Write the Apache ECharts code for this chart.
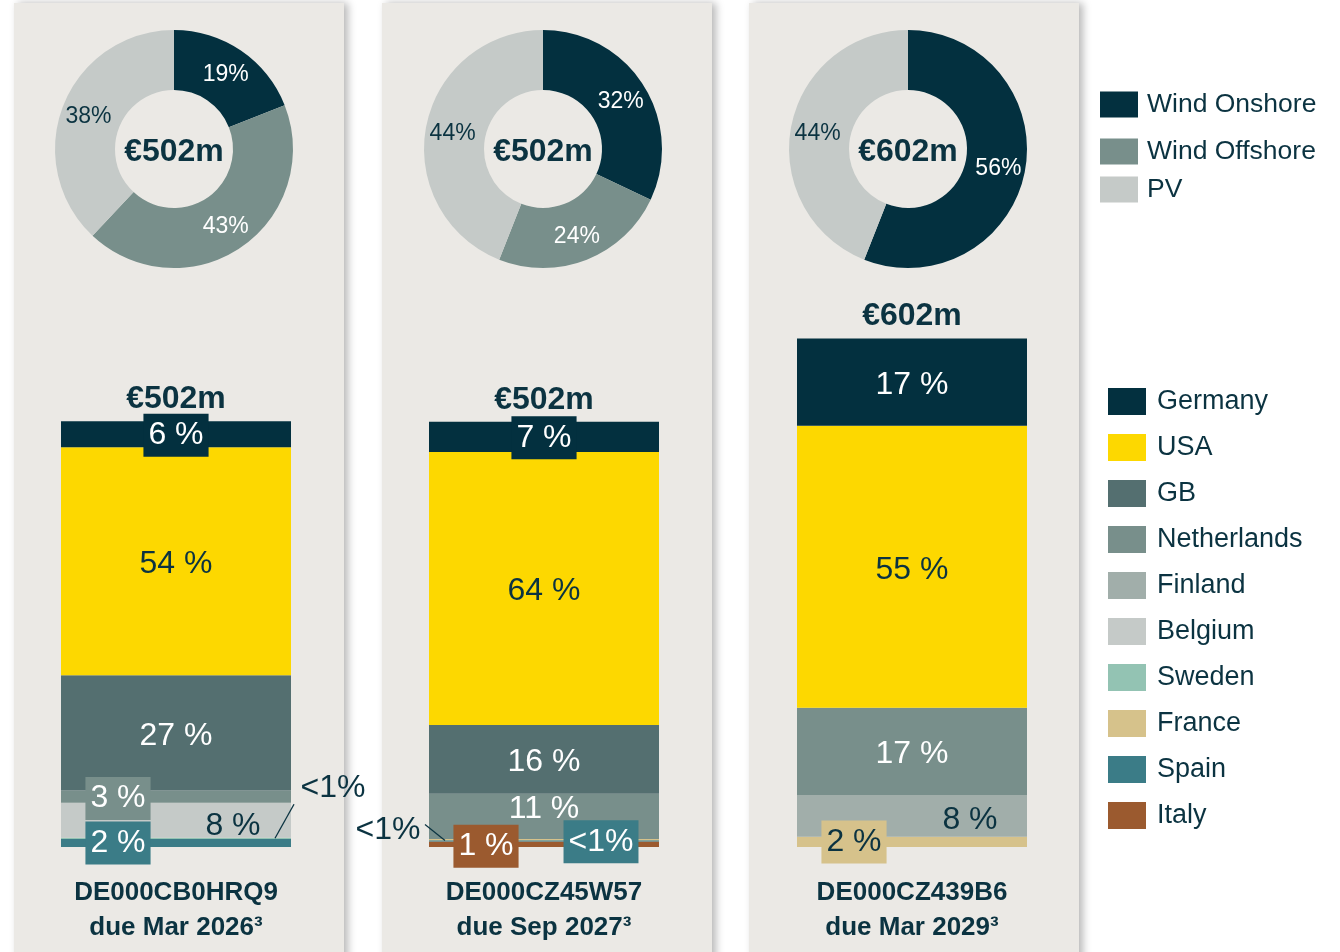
<!DOCTYPE html>
<html>
<head>
<meta charset="utf-8">
<script src="https://cdn.jsdelivr.net/npm/echarts@6/dist/echarts.min.js"></script>
<style>
  html, body { margin: 0; padding: 0; background: #fff; }
  #chart { width: 1340px; height: 952px; }
</style>
</head>
<body>
<div id="chart"></div>
<script>
const bonds = ['DE000CB0HRQ9', 'DE000CZ45W57', 'DE000CZ439B6']
const dueDates = ['due Mar 2026³', 'due Sep 2027³', 'due Mar 2029³']
const totals = [502, 502, 602]

const technologies = ['Wind Onshore', 'Wind Offshore', 'PV']
const techShare = [
  [19, 43, 38],
  [32, 24, 44],
  [56, 0, 44],
]

const countries = ['Germany', 'USA', 'GB', 'Netherlands', 'Finland', 'Belgium', 'Sweden', 'France', 'Spain', 'Italy']
// share of each bond in %
const countryShare = [
  [6.1, 53.6, 27.1, 2.9, 0, 8.2, 0.3, 0, 1.9, 0],
  [7.1, 64.2, 16.2, 10.6, 0, 0, 0, 0.3, 0.3, 1.3],
  [17.1, 55.3, 0, 17.1, 8.2, 0, 0, 2.0, 0, 0],
]

const FONT = '"Liberation Sans", Arial, sans-serif'
const DARK = '#0b3341'
const techColors = ['#03303f', '#788f8b', '#c5cac8']
const countryColors = ['#03303f', '#fdd800', '#546f70', '#788f8b', '#a1aeaa', '#c5cac8', '#93c3b3', '#d6c28b', '#3b7c87', '#9b5a2f']
const whiteText = ['Germany', 'GB', 'Netherlands', 'Spain', 'Italy']

const panelX = [14, 382, 749]
const barCenters = [176, 544, 912]
const pieCenters = [174, 543, 908]

// how the small / special segment labels are placed
const labelLayout = [
  {
    Germany: { box: true, dy: 1 },
    Netherlands: { box: true, dx: -58, dy: 2 },
    Belgium: { dx: 57, dy: 3 },
    Sweden: { dx: 157, dy: -53, leader: [99, 0, 118, -34] },
    Spain: { box: true, dx: -58, dy: 0 },
  },
  {
    Germany: { box: true, dy: 1 },
    Netherlands: { dy: -10 },
    France: { dx: -156, dy: -12, leader: [-99, 1, -119, -15] },
    Spain: { box: true, dx: 57, dy: 1 },
    Italy: { box: true, dx: -58, dy: 2 },
  },
  {
    Finland: { dx: 58, dy: 1 },
    France: { box: true, dx: -58, dy: 0 },
  },
]

const chart = echarts.init(document.getElementById('chart'))

function segLabel(i, name, pct) {
  const lay = labelLayout[i][name] || {}
  const k = countries.indexOf(name)
  const text = pct < 1 ? '<1%' : Math.round(pct) + ' %'
  const white = !lay.leader && whiteText.includes(name)
  return {
    show: true,
    position: 'inside',
    formatter: text,
    offset: [lay.dx || 0, (lay.dy || 0) + (lay.box ? 0 : 3)],
    fontSize: 32,
    fontFamily: FONT,
    color: white ? '#fff' : DARK,
    backgroundColor: lay.box ? countryColors[k] : 'transparent',
    padding: lay.box ? [7, 5, 4, 5] : 0,
  }
}

const grids = []
const xAxes = []
const yAxes = []
const series = []

bonds.forEach((bond, i) => {
  grids.push({ left: barCenters[i] - 115, width: 230, top: 254, bottom: 105 })
  xAxes.push({
    type: 'category',
    gridIndex: i,
    data: [bond],
    axisLine: { show: false },
    axisTick: { show: false },
    axisLabel: {
      margin: 28,
      lineHeight: 35,
      fontSize: 26,
      fontWeight: 'bold',
      fontFamily: FONT,
      color: DARK,
      formatter: () => bond + '\n' + dueDates[i],
    },
  })
  yAxes.push({ type: 'value', gridIndex: i, min: 0, max: 700, show: false })

  // stack from the bottom (last in the legend) up to Germany
  for (let k = countries.length - 1; k >= 0; k--) {
    const name = countries[k]
    const pct = countryShare[i][k]
    series.push({
      type: 'bar',
      name,
      xAxisIndex: i,
      yAxisIndex: i,
      stack: 'bond' + i,
      barWidth: 230,
      itemStyle: { color: countryColors[k] },
      data: [pct ? { value: totals[i] * pct / 100, label: segLabel(i, name, pct) } : '-'],
    })
  }
  series.push({
    type: 'bar',
    name: 'total',
    xAxisIndex: i,
    yAxisIndex: i,
    stack: 'bond' + i,
    barWidth: 230,
    data: [0],
    label: {
      show: true,
      position: 'top',
      distance: 6,
      formatter: '€' + totals[i] + 'm',
      fontSize: 32,
      fontWeight: 'bold',
      fontFamily: FONT,
      color: DARK,
    },
  })

  series.push({
    type: 'pie',
    center: [pieCenters[i], 149],
    radius: [59, 119],
    startAngle: 90,
    clockwise: true,
    silent: true,
    label: { show: true, position: 'inside', fontSize: 23, fontFamily: FONT, formatter: '{c}%' },
    labelLine: { show: false },
    labelLayout: { dy: 1 },
    data: technologies
      .map((t, j) => ({
        name: t,
        value: techShare[i][j],
        itemStyle: { color: techColors[j] },
        label: { color: j === 2 ? DARK : '#fff' },
      }))
      .filter(d => d.value > 0),
  })
})

const panels = panelX.map(x => ({
  type: 'rect',
  z: -10,
  shape: { x, y: 3, width: 330, height: 960 },
  style: { fill: '#ebe9e5', shadowBlur: 8, shadowOffsetX: 4, shadowColor: 'rgba(0,0,0,0.28)' },
}))

const pieTexts = pieCenters.map((cx, i) => ({
  type: 'text',
  z: 10,
  style: {
    text: '€' + totals[i] + 'm',
    x: cx,
    y: 152,
    textAlign: 'center',
    textVerticalAlign: 'middle',
    font: 'bold 32px ' + FONT,
    fill: DARK,
  },
}))

const techLegendText = { fontSize: 26.5, color: DARK, fontFamily: FONT, padding: [0, 0, 0, 4] }
const countryLegendText = { fontSize: 27, color: DARK, fontFamily: FONT, padding: [0, 0, 0, 6] }

chart.setOption({
  animation: false,
  backgroundColor: '#fff',
  grid: grids,
  xAxis: xAxes,
  yAxis: yAxes,
  legend: [
    {
      data: ['Wind Onshore', 'Wind Offshore'],
      orient: 'vertical', left: 1095, top: 86,
      itemWidth: 38, itemHeight: 26, itemGap: 20,
      icon: 'rect', selectedMode: false,
      textStyle: techLegendText,
    },
    {
      data: ['PV'],
      orient: 'vertical', left: 1095, top: 171,
      itemWidth: 38, itemHeight: 26,
      icon: 'rect', selectedMode: false,
      textStyle: techLegendText,
    },
    {
      data: countries,
      orient: 'vertical', left: 1103, top: 383,
      itemWidth: 38, itemHeight: 27, itemGap: 19,
      icon: 'rect', selectedMode: false,
      textStyle: countryLegendText,
    },
  ],
  series,
  graphic: [...panels, ...pieTexts],
})

// leader lines for the labels placed outside the bars
const lines = []
bonds.forEach((bond, i) => {
  Object.keys(labelLayout[i]).forEach((name) => {
    const lay = labelLayout[i][name]
    if (!lay.leader) return
    const k = countries.indexOf(name)
    let base = 0
    for (let j = countries.length - 1; j > k; j--) base += totals[i] * countryShare[i][j] / 100
    const mid = base + totals[i] * countryShare[i][k] / 200
    const p = chart.convertToPixel({ gridIndex: i }, [0, mid])
    const [x1, y1, x2, y2] = lay.leader
    lines.push({
      type: 'line',
      z: 10,
      shape: { x1: p[0] + x1, y1: p[1] + y1, x2: p[0] + x2, y2: p[1] + y2 },
      style: { stroke: DARK, lineWidth: 1.3 },
    })
  })
})

chart.setOption({ graphic: [...panels, ...pieTexts, ...lines] })
</script>
</body>
</html>
